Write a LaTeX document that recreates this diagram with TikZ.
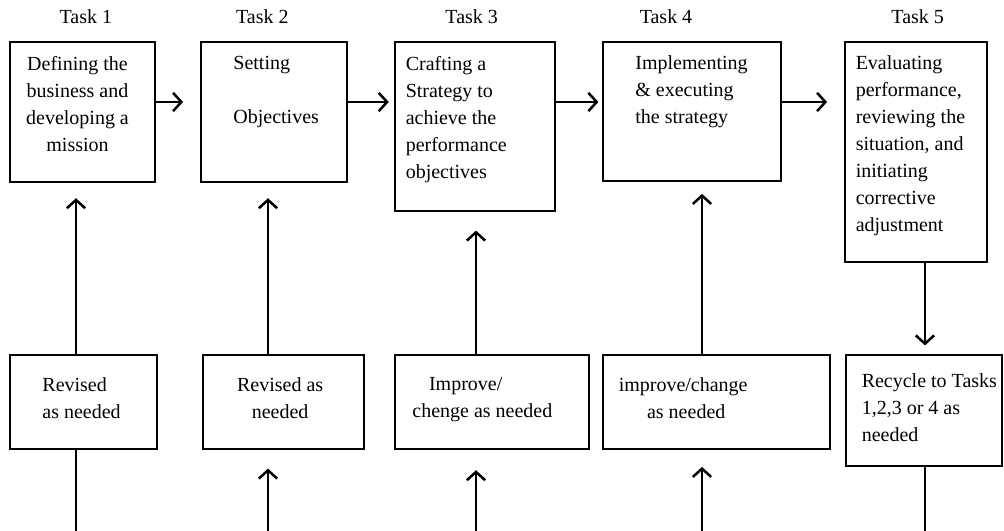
\documentclass[tikz,border=0pt]{standalone}
\usepackage{fontspec}
\setmainfont{Liberation Serif}
\usetikzlibrary{arrows.meta,positioning}

\begin{document}
\begin{tikzpicture}
        [
        x=0.6pt, y=-0.6pt,
        font=\fontsize{12pt}{16.2pt}\selectfont,
        box/.style={draw,line width=1.5pt,inner sep=0pt},
        txt/.style={inner sep=0pt,align=left},
        tasklbl/.style={inner sep=0pt},
        flow/.style={line width=1.5pt,-{Straight Barb[length=5pt,width=11pt]}},
        link/.style={line width=1.5pt}
        ]
    \useasboundingbox (0,0) rectangle (1004,531);

    % task boxes
    \node[box,minimum width=87pt,minimum height=84pt] (t1) at (82.5,112) {};
    \node[box,minimum width=87.6pt,minimum height=84pt] (t2) at (274,112) {};
    \node[box,minimum width=96pt,minimum height=101.4pt] (t3) at (475,126.5) {};
    \node[box,minimum width=106.8pt,minimum height=83.4pt] (t4) at (692,111.5) {};
    \node[box,minimum width=85.2pt,minimum height=132pt] (t5) at (916,152) {};

    % revision boxes
    \node[box,minimum width=88.2pt,minimum height=56.4pt] (b1) at (83.5,402) {};
    \node[box,minimum width=96.6pt,minimum height=56.4pt] (b2) at (283.5,402) {};
    \node[box,minimum width=116.4pt,minimum height=56.4pt] (b3) at (492,402) {};
    \node[box,minimum width=136.2pt,minimum height=56.4pt] (b4) at (716.5,402) {};
    \node[box,minimum width=93.6pt,minimum height=66.6pt] (b5) at (924,410.5) {};

    % labels
    \node[tasklbl,above=10pt of t1.north,xshift=2pt] (l1) {Task 1};
    \node[tasklbl,above=10pt of t2.north,xshift=-7pt] (l2) {Task 2};
    \node[tasklbl,above=10pt of t3.north,xshift=-2pt] (l3) {Task 3};
    \node[tasklbl,above=10pt of t4.north,xshift=-15.6pt] (l4) {Task 4};
    \node[tasklbl,above=10pt of t5.north,xshift=1pt] (l5) {Task 5};

    \node[txt,align=center,below=9pt of t1.north,xshift=-3pt] (t1txt)
        {Defining the\\business and\\developing a\\mission};
    \node[txt,below right=9pt and 20pt of t2.north west] (t2txt)
        {Setting\\[16.2pt]Objectives};
    \node[txt,below right=9pt and 7pt of t3.north west] (t3txt)
        {Crafting a\\Strategy to\\achieve the\\performance\\objectives};
    \node[txt,below right=9pt and 20pt of t4.north west] (t4txt)
        {Implementing\\\& executing\\the strategy};
    \node[txt,below right=9pt and 7pt of t5.north west] (t5txt)
        {Evaluating\\performance,\\reviewing the\\situation, and\\initiating\\corrective\\adjustment};

    \node[txt,below right=14pt and 20pt of b1.north west] (b1txt)
        {Revised\\as needed};
    \node[txt,align=center,below=14pt of b2.north,xshift=-2pt] (b2txt)
        {Revised as\\needed};
    \node[txt,below right=14pt and 11pt of b3.north west] (b3txt)
        {\hspace*{10pt}Improve/\\chenge as needed};
    \node[txt,below right=14pt and 10pt of b4.north west] (b4txt)
        {improve/change\\\hspace*{17pt}as needed};
    \node[txt,below right=12pt and 10pt of b5.north west] (b5txt)
        {Recycle to Tasks\\1,2,3 or 4 as\\needed};

    % connectors
    \coordinate (row) at (0,102);
    \coordinate (c1) at (76,531);
    \coordinate (c2) at (268,531);
    \coordinate (c3) at (476,531);
    \coordinate (c4) at (702,531);
    \coordinate (c5) at (925,531);

    \draw[flow,shorten >=10pt] (t1.east |- row) -- (t2.west |- row);
    \draw[flow,shorten >=3pt] (t2.east |- row) -- (t3.west |- row);
    \draw[flow,shorten >=2pt] (t3.east |- row) -- (t4.west |- row);
    \draw[flow,shorten >=10pt] (t4.east |- row) -- (t5.west |- row);

    \draw[flow,shorten >=9pt] (b1.north -| c1) -- (t1.south -| c1);
    \draw[flow,shorten >=9pt] (b2.north -| c2) -- (t2.south -| c2);
    \draw[flow,shorten >=11pt] (b3.north -| c3) -- (t3.south -| c3);
    \draw[flow,shorten >=7pt] (b4.north -| c4) -- (t4.south -| c4);
    \draw[flow,shorten >=5pt] (t5.south -| c5) -- (b5.north -| c5);

    \draw[link] (c1) -- (b1.south -| c1);
    \draw[flow,shorten >=11pt] (c2) -- (b2.south -| c2);
    \draw[flow,shorten >=12pt] (c3) -- (b3.south -| c3);
    \draw[flow,shorten >=10pt] (c4) -- (b4.south -| c4);
    \draw[link] (c5) -- (b5.south -| c5);
    \end{tikzpicture}
\end{document}
